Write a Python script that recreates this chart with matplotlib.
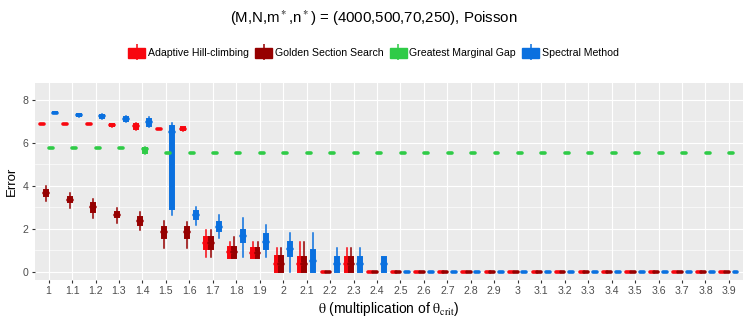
import matplotlib
matplotlib.use("Agg")
import matplotlib.pyplot as plt
from matplotlib.patches import Patch
from matplotlib.lines import Line2D
from matplotlib.legend_handler import HandlerTuple

plt.rcParams["font.family"] = ["Liberation Sans", "DejaVu Sans"]
plt.rcParams["mathtext.fontset"] = "stix"

# theta values (multiples of theta_crit)
thetas = ["1", "1.1", "1.2", "1.3", "1.4", "1.5", "1.6", "1.7", "1.8", "1.9",
          "2", "2.1", "2.2", "2.3", "2.4", "2.5", "2.6", "2.7", "2.8", "2.9",
          "3", "3.1", "3.2", "3.3", "3.4", "3.5", "3.6", "3.7", "3.8", "3.9"]

methods = ["Adaptive Hill-climbing", "Golden Section Search",
           "Greatest Marginal Gap", "Spectral Method"]
colors = ["#F8070F", "#960000", "#2FCB47", "#0A70DF"]

# (lower whisker, q1, median, q3, upper whisker) per theta
hill = [
    (6.88, 6.88, 6.88, 6.88, 6.88), (6.88, 6.88, 6.88, 6.88, 6.88),
    (6.88, 6.88, 6.88, 6.88, 6.88), (6.73, 6.78, 6.85, 6.90, 6.90),
    (6.60, 6.64, 6.78, 6.88, 6.93), (6.66, 6.66, 6.66, 6.66, 6.66),
    (6.55, 6.62, 6.66, 6.72, 6.72), (0.67, 1.06, 1.35, 1.63, 1.94),
    (0.65, 0.65, 0.90, 1.14, 1.40), (0.62, 0.62, 0.85, 1.09, 1.40),
    (0.00, 0.00, 0.35, 0.73, 1.09), (0.00, 0.00, 0.35, 0.70, 1.37),
    (0, 0, 0, 0, 0), (0.00, 0.00, 0.35, 0.70, 1.09),
    (0, 0, 0, 0, 0), (0, 0, 0, 0, 0), (0, 0, 0, 0, 0), (0, 0, 0, 0, 0),
    (0, 0, 0, 0, 0), (0, 0, 0, 0, 0), (0, 0, 0, 0, 0), (0, 0, 0, 0, 0),
    (0, 0, 0, 0, 0), (0, 0, 0, 0, 0), (0, 0, 0, 0, 0), (0, 0, 0, 0, 0),
    (0, 0, 0, 0, 0), (0, 0, 0, 0, 0), (0, 0, 0, 0, 0), (0, 0, 0, 0, 0),
]

golden = [
    (3.31, 3.54, 3.68, 3.81, 4.00), (2.98, 3.23, 3.35, 3.47, 3.68),
    (2.49, 2.80, 3.00, 3.19, 3.39), (2.28, 2.53, 2.66, 2.80, 2.98),
    (1.94, 2.18, 2.37, 2.56, 2.77), (1.09, 1.58, 1.85, 2.10, 2.38),
    (1.09, 1.58, 1.85, 2.07, 2.30), (0.67, 1.06, 1.35, 1.63, 1.94),
    (0.65, 0.65, 0.90, 1.14, 1.60), (0.62, 0.62, 0.85, 1.09, 1.40),
    (0.00, 0.00, 0.35, 0.73, 1.09), (0.00, 0.00, 0.35, 0.70, 1.37),
    (0, 0, 0, 0, 0), (0.00, 0.00, 0.35, 0.70, 1.09),
    (0, 0, 0, 0, 0), (0, 0, 0, 0, 0), (0, 0, 0, 0, 0), (0, 0, 0, 0, 0),
    (0, 0, 0, 0, 0), (0, 0, 0, 0, 0), (0, 0, 0, 0, 0), (0, 0, 0, 0, 0),
    (0, 0, 0, 0, 0), (0, 0, 0, 0, 0), (0, 0, 0, 0, 0), (0, 0, 0, 0, 0),
    (0, 0, 0, 0, 0), (0, 0, 0, 0, 0), (0, 0, 0, 0, 0), (0, 0, 0, 0, 0),
]

gap = [
    (5.76, 5.76, 5.76, 5.76, 5.76), (5.76, 5.76, 5.76, 5.76, 5.76),
    (5.76, 5.76, 5.76, 5.76, 5.76), (5.76, 5.76, 5.76, 5.76, 5.76),
    (5.50, 5.52, 5.70, 5.78, 5.80), (5.52, 5.52, 5.52, 5.52, 5.52),
    (5.52, 5.52, 5.52, 5.52, 5.52), (5.52, 5.52, 5.52, 5.52, 5.52),
    (5.52, 5.52, 5.52, 5.52, 5.52), (5.52, 5.52, 5.52, 5.52, 5.52),
    (5.52, 5.52, 5.52, 5.52, 5.52), (5.52, 5.52, 5.52, 5.52, 5.52),
    (5.52, 5.52, 5.52, 5.52, 5.52), (5.52, 5.52, 5.52, 5.52, 5.52),
    (5.52, 5.52, 5.52, 5.52, 5.52), (5.52, 5.52, 5.52, 5.52, 5.52),
    (5.52, 5.52, 5.52, 5.52, 5.52), (5.52, 5.52, 5.52, 5.52, 5.52),
    (5.52, 5.52, 5.52, 5.52, 5.52), (5.52, 5.52, 5.52, 5.52, 5.52),
    (5.52, 5.52, 5.52, 5.52, 5.52), (5.52, 5.52, 5.52, 5.52, 5.52),
    (5.52, 5.52, 5.52, 5.52, 5.52), (5.52, 5.52, 5.52, 5.52, 5.52),
    (5.52, 5.52, 5.52, 5.52, 5.52), (5.52, 5.52, 5.52, 5.52, 5.52),
    (5.52, 5.52, 5.52, 5.52, 5.52), (5.52, 5.52, 5.52, 5.52, 5.52),
    (5.52, 5.52, 5.52, 5.52, 5.52), (5.52, 5.52, 5.52, 5.52, 5.52),
]

spectral = [
    (7.38, 7.38, 7.41, 7.44, 7.44), (7.21, 7.24, 7.30, 7.36, 7.36),
    (7.10, 7.15, 7.24, 7.30, 7.34), (6.96, 7.02, 7.10, 7.22, 7.27),
    (6.72, 6.79, 6.95, 7.10, 7.19), (2.64, 2.92, 6.50, 6.79, 6.91),
    (2.18, 2.46, 2.65, 2.83, 3.00), (1.58, 1.91, 2.10, 2.33, 2.64),
    (0.67, 1.37, 1.65, 1.94, 2.49), (0.67, 1.06, 1.40, 1.76, 2.18),
    (0.00, 0.75, 1.05, 1.40, 1.79), (0.00, 0.00, 0.50, 1.01, 1.79),
    (0.00, 0.00, 0.35, 0.70, 1.09), (0.00, 0.00, 0.35, 0.70, 1.09),
    (0.00, 0.00, 0.35, 0.70, 0.70),
    (0, 0, 0, 0, 0), (0, 0, 0, 0, 0), (0, 0, 0, 0, 0), (0, 0, 0, 0, 0),
    (0, 0, 0, 0, 0), (0, 0, 0, 0, 0), (0, 0, 0, 0, 0), (0, 0, 0, 0, 0),
    (0, 0, 0, 0, 0), (0, 0, 0, 0, 0), (0, 0, 0, 0, 0), (0, 0, 0, 0, 0),
    (0, 0, 0, 0, 0), (0, 0, 0, 0, 0), (0, 0, 0, 0, 0),
]

series = [hill, golden, gap, spectral]


def to_stats(rows):
    return [dict(whislo=r[0], q1=r[1], med=r[2], q3=r[3], whishi=r[4], fliers=[])
            for r in rows]


fig = plt.figure(figsize=(7.47, 3.23), dpi=100)
ax = fig.add_axes([0.0462, 0.1331, 0.9484, 0.6099])
ax.set_facecolor("#EBEBEB")

# grid like ggplot
for y in [1, 3, 5, 7]:
    ax.axhline(y, color="white", lw=0.45, zorder=0)
ax.grid(True, which="major", color="white", lw=0.85, zorder=0)
ax.set_axisbelow(True)

dodge = 0.75 / 4
for k, (rows, col) in enumerate(zip(series, colors)):
    offset = (k - 1.5) * dodge
    pos = [i + offset for i in range(len(thetas))]
    ax.bxp(to_stats(rows), positions=pos, widths=dodge * 0.9, patch_artist=True,
           showcaps=False, showfliers=False, manage_ticks=False,
           boxprops=dict(facecolor=col, edgecolor=col, lw=1.4),
           whiskerprops=dict(color=col, lw=1.1),
           medianprops=dict(color=col, lw=2.6, solid_capstyle="round"),
           zorder=3)

ax.set_xlim(-0.6, len(thetas) - 0.4)
ax.set_ylim(-0.39, 8.79)
ax.set_xticks(range(len(thetas)))
ax.set_xticklabels(thetas)
ax.set_yticks([0, 2, 4, 6, 8])
ax.tick_params(axis="both", colors="#333333", labelcolor="#4D4D4D",
               labelsize=7.6, length=2.5, width=0.8, pad=2)
for s in ax.spines.values():
    s.set_visible(False)

ax.set_ylabel("Error", fontsize=9.5, labelpad=3)
ax.set_xlabel(r"$\mathrm{\theta}$ (multiplication of $\mathrm{\theta_{crit}}$)",
              fontsize=10, labelpad=3)

fig.text(0.5, 1 - 18 / 323,
         r"(M,N,m$^*$,n$^*$) = (4000,500,70,250), Poisson",
         ha="center", va="center", fontsize=10.8)

handles = []
for col in colors:
    box = Patch(facecolor=col, edgecolor=col)
    whisk = Line2D([], [], marker="|", markersize=11, markeredgewidth=1.1,
                   color=col, linestyle="None")
    handles.append((box, whisk))
fig.legend(handles, methods, loc="center", bbox_to_anchor=(0.5, 1 - 53 / 323),
           ncol=4, frameon=False, fontsize=7.6, handlelength=1.6,
           handleheight=1.1, handletextpad=0.25, columnspacing=0.6,
           handler_map={tuple: HandlerTuple(ndivide=1, pad=0)})

fig.savefig("out.png", dpi=100)
